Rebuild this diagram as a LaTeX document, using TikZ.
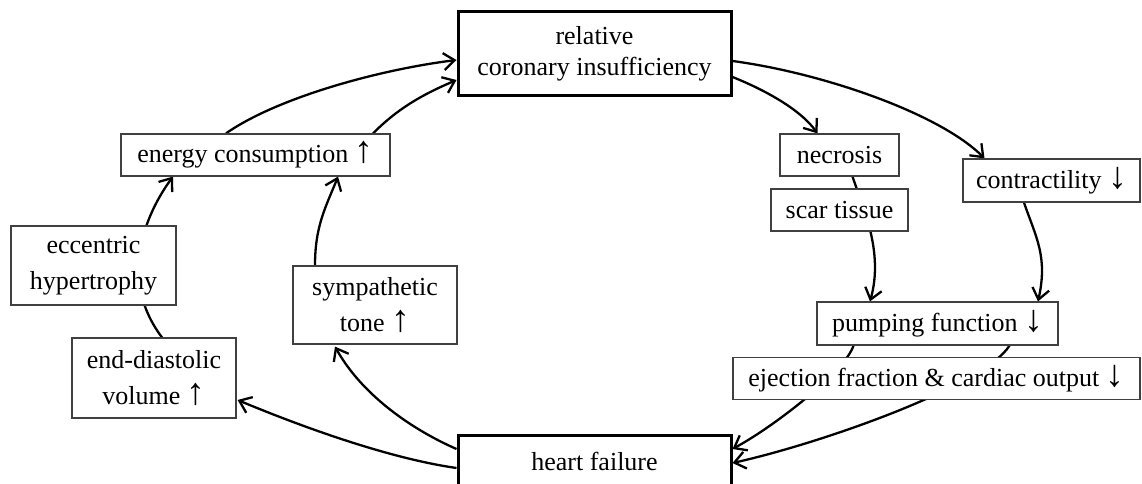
\documentclass[tikz,border=0pt]{standalone}
\usepackage{fontspec}
\setmainfont{Liberation Serif}
\usetikzlibrary{arrows.meta,calc,backgrounds}
\newcommand\arrup{\scalebox{1.45}{↑}}
\newcommand\arrdn{\scalebox{1.45}{↓}}
\begin{document}
\begin{tikzpicture}[x=1pt,y=-1pt,
  sbox/.style={draw=black!75, line width=1.2pt, fill=white, inner sep=0pt, align=center, font=\fontsize{26}{36}\selectfont},
  mbox/.style={draw=black, line width=3pt, fill=white, inner sep=0pt, align=center, font=\fontsize{26}{31}\selectfont},
  conn/.style={line width=2.3pt, -{Straight Barb[length=11pt,width=17pt]}},
  link/.style={line width=2.3pt}]
\useasboundingbox (0,0) rectangle (1142,484);
\clip (0,0) rectangle (1142,484);
% nodes
\node[mbox, minimum width=273pt, minimum height=84pt] (rel) at (594.5,54) {relative\\coronary insufficiency};
\node[mbox, minimum width=273pt, minimum height=52pt] (hf) at (594.5,461) {heart failure};
\node[sbox, minimum width=269pt, minimum height=42pt] (energy) at (255.5,155) {energy consumption \arrup};
\node[sbox, minimum width=165pt, minimum height=79pt] (ecc) at (93.5,265.5) {eccentric\\hypertrophy};
\node[sbox, minimum width=164pt, minimum height=80pt] (edv) at (154,378) {end-diastolic\\volume \arrup};
\node[sbox, minimum width=164pt, minimum height=78pt] (sym) at (375,305) {sympathetic\\tone \arrup};
\node[sbox, minimum width=119pt, minimum height=42pt] (nec) at (839.5,155) {necrosis};
\node[sbox, minimum width=137pt, minimum height=42pt] (scar) at (839.5,210) {scar tissue};
\node[sbox, minimum width=177pt, minimum height=43pt] (con) at (1051.5,180.5) {contractility \arrdn};
\node[sbox, minimum width=241pt, minimum height=43pt] (pump) at (937.5,323.5) {pumping function \arrdn};
\node[sbox, minimum width=407pt, minimum height=42pt] (ej) at (936.5,378.5) {ejection fraction \& cardiac output \arrdn};
% connectors
\begin{scope}[on background layer]
\draw[conn] ($(edv.north)+(8,0)$) .. controls +(-44,-58) and +(-28,38) .. ($(energy.south)+(-82.5,0)$);
\draw[conn] ($(sym.north)+(-60,0)$) .. controls +(0,-40) and +(-12,30) .. ($(energy.south)+(82.5,0)$);
\draw[conn] ($(energy.north)+(-29.5,0)$) .. controls +(50,-35) and +(-80,10) .. ($(rel.west)+(0,6)$);
\draw[conn] ($(energy.north)+(117.5,0)$) .. controls +(25,-25) and +(-35,15) .. ($(rel.west)+(0,26)$);
\draw[conn] ($(hf.west)+(0,-12)$) .. controls +(-50,-22) and +(25,45) .. ($(sym.south)+(-40,2)$);
\draw[conn] ($(hf.west)+(0,7)$) .. controls +(-70,-10) and +(60,25) .. ($(edv.east)+(1,22)$);
\draw[conn] ($(rel.east)+(0,7)$) .. controls +(90,12) and +(-45,-45) .. ($(con.north)+(-67,0)$);
\draw[conn] ($(rel.east)+(0,23)$) .. controls +(30,12) and +(-18,-25) .. ($(nec.north)+(-22,0)$);
\draw[conn] ($(nec.south)+(13,0)$) .. controls +(10,30) and +(14,-50) .. ($(pump.north)+(-67.5,0)$);
\draw[conn] ($(con.south)+(-27.5,0)$) .. controls +(12,35) and +(10,-45) .. ($(pump.north)+(100.5,0)$);
\draw[conn] ($(pump.south)+(-84,0)$) .. controls +(-8,25) and +(44,-24) .. ($(hf.east)+(0,-12)$);
\draw[conn] ($(pump.south)+(72,0)$) .. controls +(-25,40) and +(90,-20) .. ($(hf.east)+(0,2)$);
\end{scope}
\end{tikzpicture}
\end{document}
